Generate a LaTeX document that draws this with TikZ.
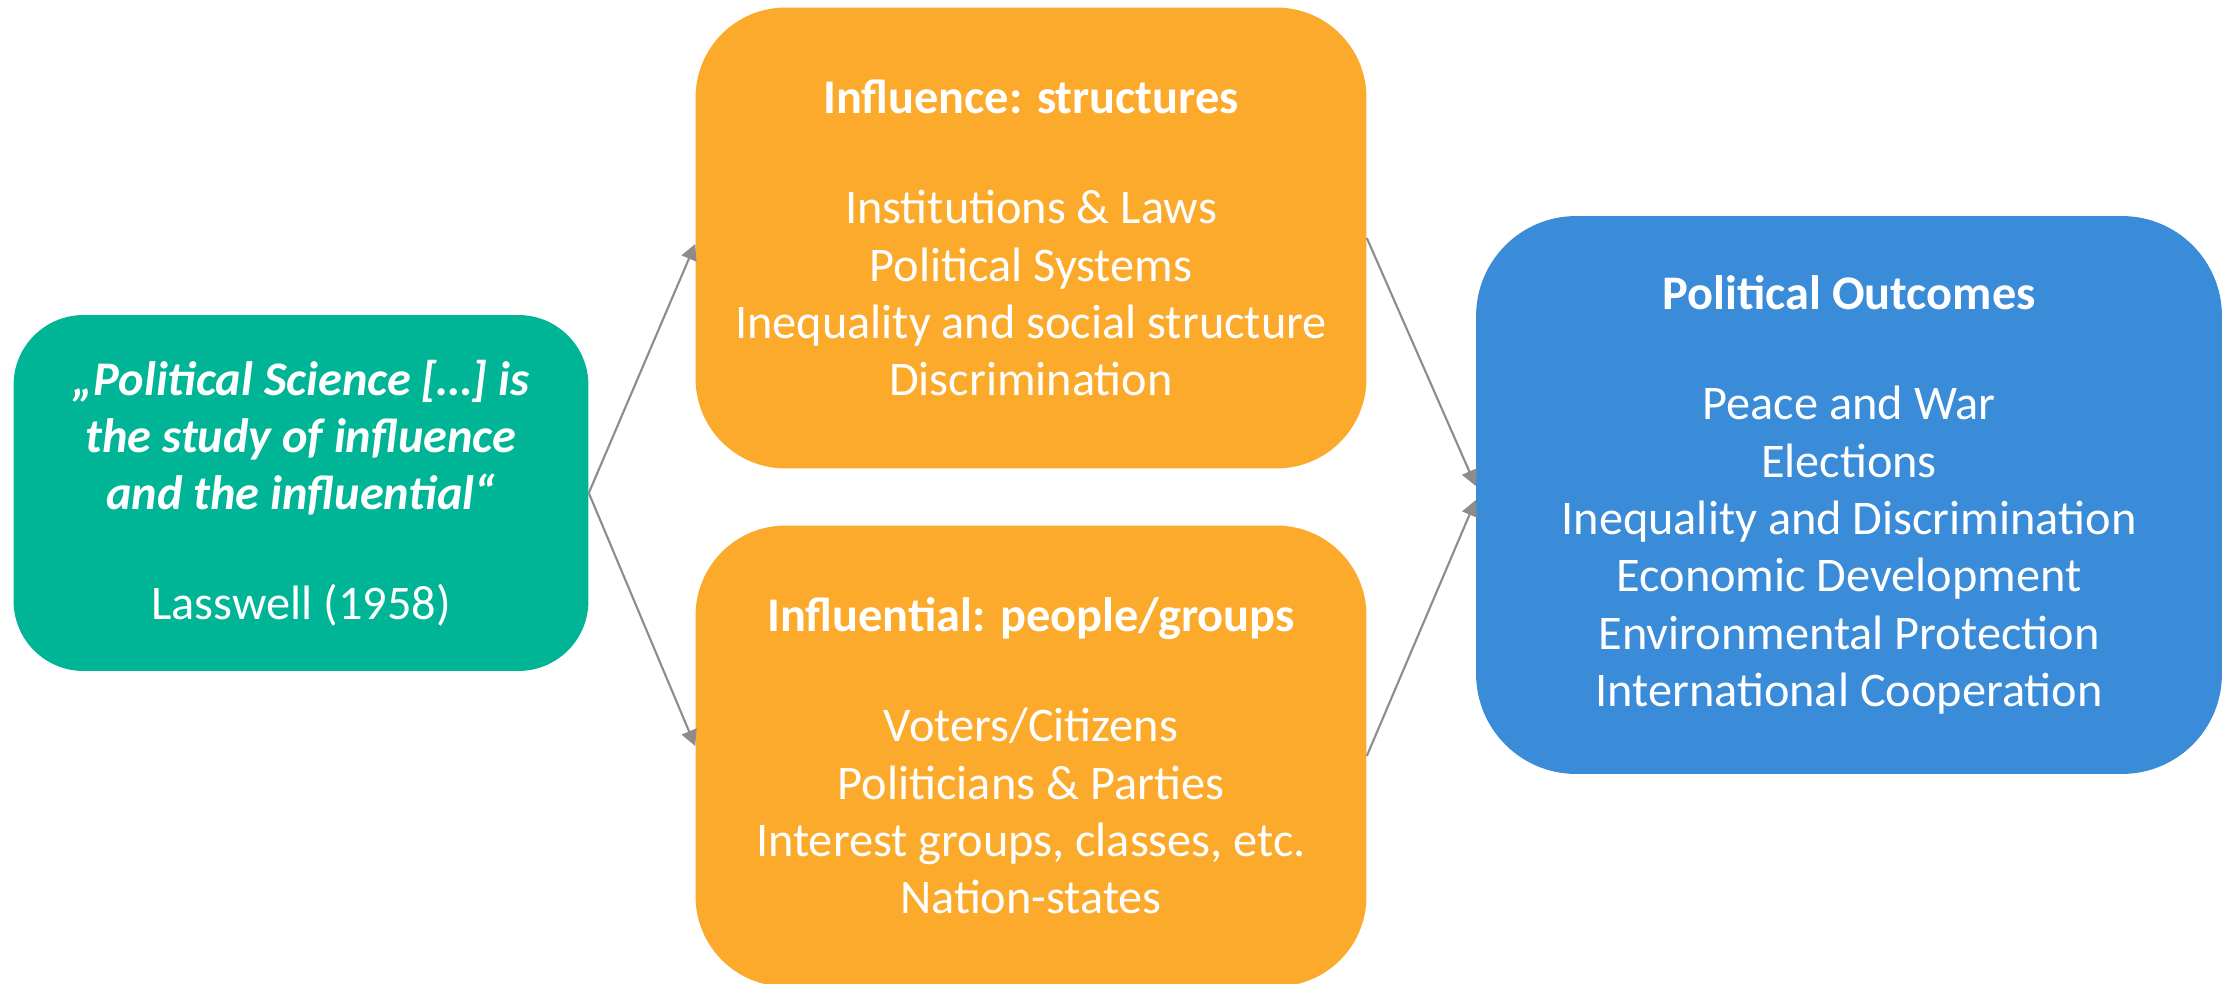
\documentclass[tikz,border=0pt]{standalone}
\usepackage{fontspec}
\setmainfont{Carlito}
\usetikzlibrary{arrows.meta}
\definecolor{quotegreen}{RGB}{0,181,150}
\definecolor{influorange}{RGB}{251,170,44}
\definecolor{outcomeblue}{RGB}{58,139,216}
\definecolor{arrowgray}{RGB}{140,140,140}

\begin{document}
\begin{tikzpicture}[x = 0.02cm, y = -0.02cm,
		box/.style = {align=center, text=white, inner sep=0pt, font=\fontsize{27.5}{32.6}\selectfont},
		link/.style = {draw=arrowgray, line width=1.2pt, -{Triangle[length=9pt,width=9pt]}},]

		\useasboundingbox (0,0) rectangle (2226,983);

		\node[box, fill=quotegreen, rounded corners=1.4cm, minimum width=11.5cm, minimum height=7.12cm] (quote) at (301,493)
			{{\bfseries\itshape „Political Science […] is}\\ {\bfseries\itshape the study of influence}\\ {\bfseries\itshape and the influential“}\\[30pt] Lasswell (1958)};
		\node[box, fill=influorange, rounded corners=1.8cm, minimum width=13.42cm, minimum height=9.22cm] (struct) at (1031,238)
			{{\bfseries Influence: structures}\\[30pt] Institutions \& Laws\\ Political Systems\\ Inequality and social structure\\ Discrimination};
		\node[box, fill=influorange, rounded corners=1.8cm, minimum width=13.42cm, minimum height=9.22cm] (people) at (1031,756)
			{{\bfseries Influential: people/groups}\\[30pt] Voters/Citizens\\ Politicians \& Parties\\ Interest groups, classes, etc.\\ Nation-states};
		\node[box, fill=outcomeblue, rounded corners=2cm, minimum width=14.92cm, minimum height=11.16cm] (outcomes) at (1849,495)
			{{\bfseries Political Outcomes}\\[30pt] Peace and War\\ Elections\\ Inequality and Discrimination\\ Economic Development\\ Environmental Protection\\ International Cooperation};

		\draw[link] (quote.east) -- ([yshift=-0.12cm]struct.west);
		\draw[link] (quote.east) -- ([yshift=0.2cm]people.west);
		\draw[link] (struct.east) -- ([yshift=0.18cm]outcomes.west);
		\draw[link] (people.east) -- ([yshift=-0.1cm]outcomes.west);

	\end{tikzpicture}
\end{document}
